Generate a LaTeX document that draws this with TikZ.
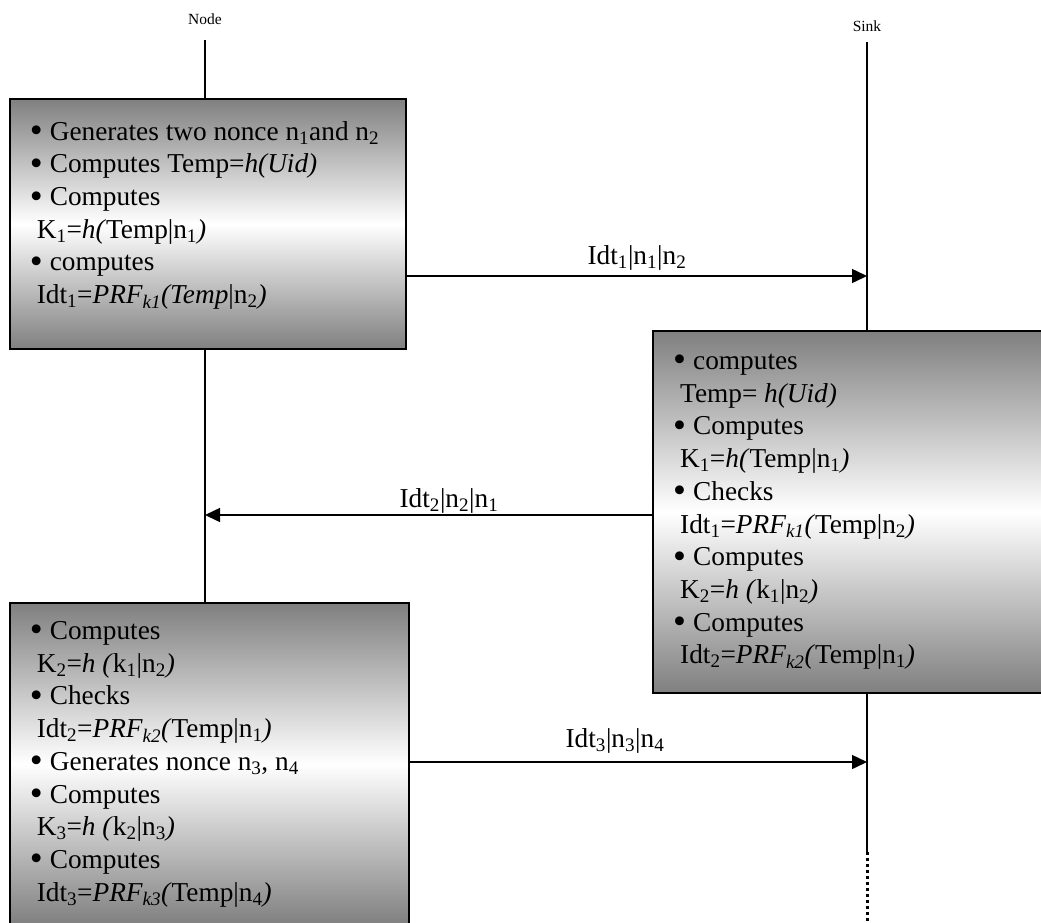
\documentclass[tikz,border=0pt]{standalone}
\usepackage{fontspec}
\setmainfont{Liberation Serif}
\usetikzlibrary{arrows.meta,calc}
\newcommand{\sbs}[1]{\textsubscript{#1}}
\newcommand{\bul}{\raisebox{-0.09em}{\scalebox{1.35}{\textbullet}}\hspace{0.26em}}
\newcommand{\cont}{\hspace*{7pt}}
\begin{document}
\begin{tikzpicture}[x=1pt,y=-1pt,
  box/.style={draw=black,line width=1.5pt,top color=black!50,bottom color=black!50,middle color=white,inner sep=0pt},
  txt/.style={align=left,inner sep=0pt,anchor=north west,font=\fontsize{27.3}{32.7}\selectfont},
  lbl/.style={inner sep=0pt,anchor=base,font=\fontsize{27.3}{32.7}\selectfont},
  head/.style={inner sep=0pt,anchor=base,font=\fontsize{15.5}{18}\selectfont},
  life/.style={line width=1.2pt},
  msg/.style={line width=1.5pt,-{Triangle[length=15pt,width=14pt]}}]
\useasboundingbox (0,0) rectangle (1041,922);
\clip (0,0) rectangle (1041,922);
% headers
\node[head] (hnode) at (205,24) {Node};
\node[head] (hsink) at (867,31) {Sink};
\coordinate (ntop) at (205,40);
\coordinate (stop) at (867,42);
% boxes
\node[box,minimum width=396pt,minimum height=250pt] (b1) at (208,224) {};
\node[box,minimum width=392pt,minimum height=362pt] (b2) at (849,512) {};
\node[box,minimum width=399pt,minimum height=322pt] (b3) at (209.5,764) {};
% lifelines
\draw[life] (ntop) -- (ntop |- b1.north);
\draw[life] (ntop |- b1.south) -- (ntop |- b3.north);
\draw[life] (stop) -- (stop |- b2.north);
\coordinate (sdot) at (867,852);
\coordinate (send) at (867,922);
\draw[line width=2.2pt] (stop |- b2.south) -- (sdot);
\draw[line width=3pt,dash pattern=on 3pt off 3pt] (sdot) -- (send);
% texts
\node[txt] (t1) at (29.6,117.1) {\strut\bul Generates two nonce n\sbs{1}and n\sbs{2}\\
\bul Computes Temp=\textit{h(Uid)}\\
\bul Computes\\
\cont K\sbs{1}=\textit{h(}Temp|n\sbs{1}\textit{)}\\
\bul computes\\
\cont Idt\sbs{1}=\textit{PRF\sbs{k1}(Temp}|n\sbs{2}\textit{)}};
\node[txt] (t2) at (673,346.4) {\strut\bul computes\\
\cont Temp= \textit{h(Uid)}\\
\bul Computes\\
\cont K\sbs{1}=\textit{h(}Temp|n\sbs{1}\textit{)}\\
\bul Checks\\
\cont Idt\sbs{1}=\textit{PRF\sbs{k1}(}Temp|n\sbs{2}\textit{)}\\
\bul Computes\\
\cont K\sbs{2}=\textit{h (}k\sbs{1}|n\sbs{2}\textit{)}\\
\bul Computes\\
\cont Idt\sbs{2}=\textit{PRF\sbs{k2}(}Temp|n\sbs{1}\textit{)}};
\node[txt] (t3) at (29.6,616.4) {\strut\bul Computes\\
\cont K\sbs{2}=\textit{h (}k\sbs{1}|n\sbs{2}\textit{)}\\
\bul Checks\\
\cont Idt\sbs{2}=\textit{PRF\sbs{k2}(}Temp|n\sbs{1}\textit{)}\\
\bul Generates nonce n\sbs{3}, n\sbs{4}\\
\bul Computes\\
\cont K\sbs{3}=\textit{h (}k\sbs{2}|n\sbs{3}\textit{)}\\
\bul Computes\\
\cont Idt\sbs{3}=\textit{PRF\sbs{k3}(}Temp|n\sbs{4}\textit{)}};
% messages
\coordinate (a1) at (867,276);
\coordinate (a2) at (205,515);
\coordinate (a3) at (867,762);
\draw[msg] (a1 -| b1.east) -- (a1);
\draw[msg] (a2 -| b2.west) -- (a2);
\draw[msg] (a3 -| b3.east) -- (a3);
\node[lbl] (l1) at (637,264.5) {Idt\sbs{1}|n\sbs{1}|n\sbs{2}};
\node[lbl] (l2) at (449,507) {Idt\sbs{2}|n\sbs{2}|n\sbs{1}};
\node[lbl] (l3) at (615,747.5) {Idt\sbs{3}|n\sbs{3}|n\sbs{4}};
\end{tikzpicture}
\end{document}
